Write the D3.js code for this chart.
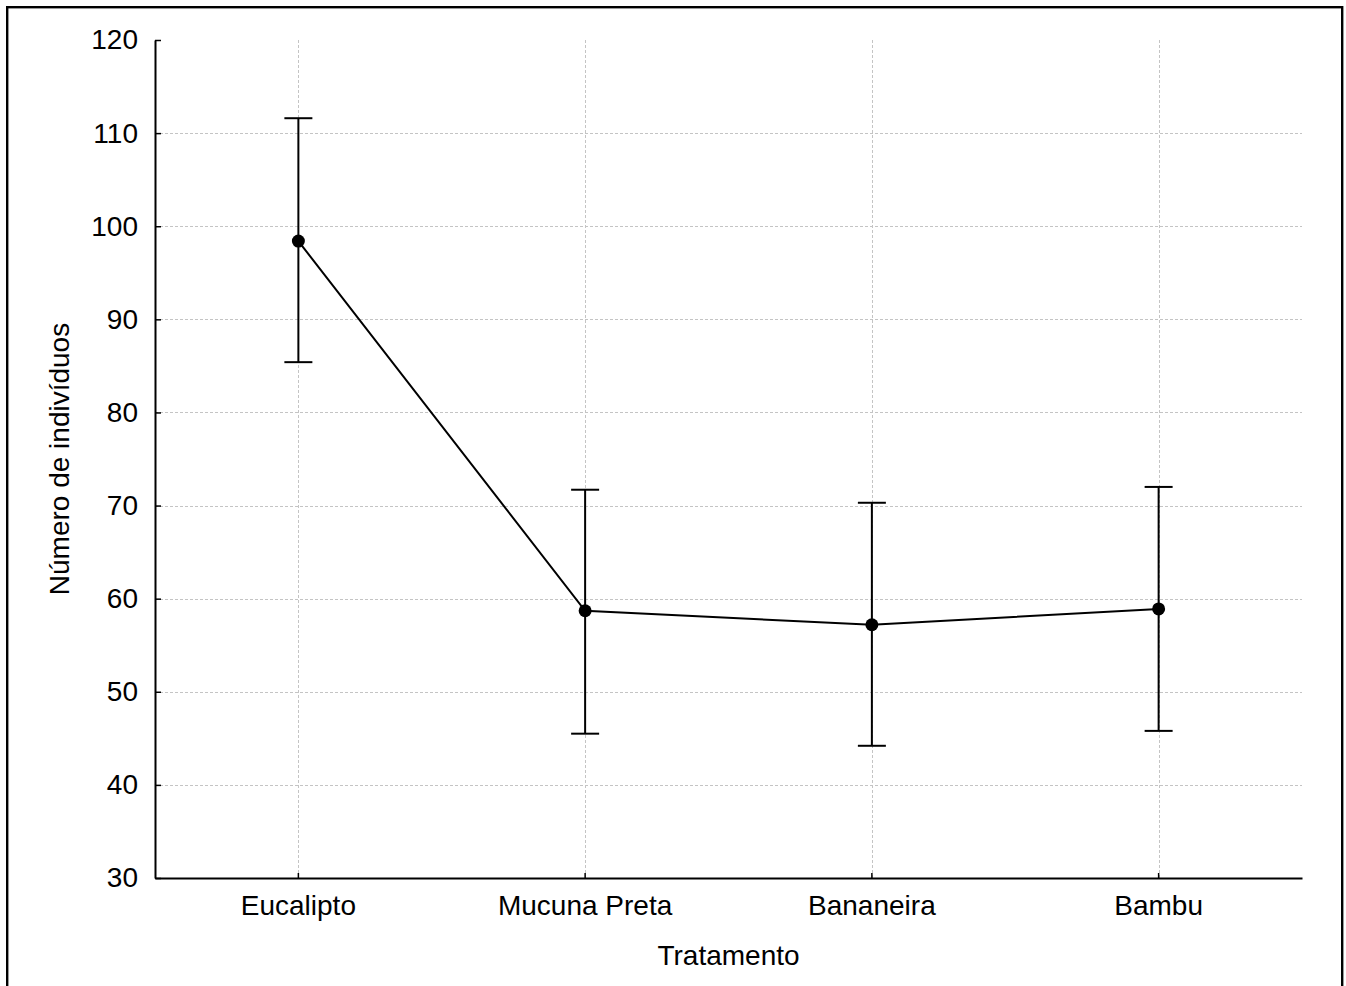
<!DOCTYPE html>
<html>
<head>
<meta charset="utf-8">
<script src="https://cdn.jsdelivr.net/npm/d3@7"></script>
<style>
  body { margin: 0; background: #fff; }
  svg { display: block; font-family: "Liberation Sans", Arial, sans-serif; }
</style>
</head>
<body>
<div class="chart"></div>
<script>
// data
const categories = ['Eucalipto', 'Mucuna Preta', 'Bananeira', 'Bambu'];
const means = [98.4, 58.7, 57.2, 58.9];
const upper = [111.6, 71.7, 70.3, 72.0];
const lower = [85.4, 45.5, 44.2, 45.8];
const yTicks = [30, 40, 50, 60, 70, 80, 90, 100, 110, 120];

const W = 1346, H = 986;
const margin = {top: 40, left: 155, right: 44, bottom: 108};
const width = W - margin.left - margin.right;
const height = H - margin.top - margin.bottom;
const fontSize = 28;

const data = categories.map((c, i) => ({cat: c, mean: means[i], hi: upper[i], lo: lower[i]}));

const root = d3.select('.chart')
    .append('svg')
    .attr('width', W)
    .attr('height', H);

// outer frame (bottom edge runs off the picture)
root.append('rect')
    .attr('x', 7.2)
    .attr('y', 7.2)
    .attr('width', 1335)
    .attr('height', 1000)
    .attr('fill', 'none')
    .attr('stroke', 'black')
    .attr('stroke-width', 2.4);

const svg = root.append('g')
    .attr('transform', `translate(${margin.left},${margin.top})`);

// scales
const xScale = d3.scaleBand()
    .domain(categories)
    .range([0, width])
    .padding(0);

const yScale = d3.scaleLinear()
    .domain([30, 120])
    .range([height, 0]);

const cx = d => xScale(d) + xScale.bandwidth() / 2;

// grid
const grid = svg.append('g')
    .attr('stroke', '#c4c4c4')
    .attr('stroke-width', 1)
    .attr('stroke-dasharray', '3,2');

grid.selectAll('.hgrid')
    .data(yTicks.filter(t => t > 30 && t < 120))
    .join('line')
    .attr('class', 'hgrid')
    .attr('x1', 0)
    .attr('x2', width)
    .attr('y1', d => Math.round(yScale(d)) + 0.5)
    .attr('y2', d => Math.round(yScale(d)) + 0.5);

grid.selectAll('.vgrid')
    .data(categories)
    .join('line')
    .attr('class', 'vgrid')
    .attr('x1', d => Math.round(cx(d)) + 0.5)
    .attr('x2', d => Math.round(cx(d)) + 0.5)
    .attr('y1', 0)
    .attr('y2', height);

// axes
const yAxis = d3.axisLeft(yScale)
    .tickValues(yTicks)
    .tickSizeInner(-6)
    .tickSizeOuter(0)
    .tickPadding(17);

svg.append('g')
    .attr('class', 'axis y-axis')
    .call(yAxis)
    .call(g => g.select('.domain').attr('stroke-width', 2))
    .call(g => g.selectAll('.tick line').attr('stroke-width', 1.5))
    .call(g => g.selectAll('.tick text')
        .attr('font-size', fontSize)
        .attr('fill', 'black')
        .attr('font-family', '"Liberation Sans", Arial, sans-serif'));

const xAxis = d3.axisBottom(xScale)
    .tickSizeInner(-5)
    .tickSizeOuter(0)
    .tickPadding(17);

svg.append('g')
    .attr('class', 'axis x-axis')
    .attr('transform', `translate(0,${height})`)
    .call(xAxis)
    .call(g => g.select('.domain').attr('stroke-width', 2))
    .call(g => g.selectAll('.tick line').attr('stroke-width', 1.5))
    .call(g => g.selectAll('.tick text')
        .attr('font-size', fontSize)
        .attr('fill', 'black')
        .attr('font-family', '"Liberation Sans", Arial, sans-serif'));

// axis titles
svg.append('text')
    .attr('x', width / 2)
    .attr('y', height + 87)
    .attr('text-anchor', 'middle')
    .attr('font-size', fontSize)
    .text('Tratamento');

svg.append('text')
    .attr('transform', `translate(${69 - margin.left},${height / 2}) rotate(-90)`)
    .attr('text-anchor', 'middle')
    .attr('font-size', fontSize)
    .text('Número de indivíduos');

// error bars
const bars = svg.append('g')
    .attr('stroke', 'black')
    .attr('stroke-width', 2);

bars.selectAll('.err')
    .data(data)
    .join('line')
    .attr('class', 'err')
    .attr('x1', d => cx(d.cat))
    .attr('x2', d => cx(d.cat))
    .attr('y1', d => yScale(d.hi))
    .attr('y2', d => yScale(d.lo));

bars.selectAll('.cap-hi')
    .data(data)
    .join('line')
    .attr('class', 'cap-hi')
    .attr('x1', d => cx(d.cat) - 14)
    .attr('x2', d => cx(d.cat) + 14)
    .attr('y1', d => yScale(d.hi))
    .attr('y2', d => yScale(d.hi));

bars.selectAll('.cap-lo')
    .data(data)
    .join('line')
    .attr('class', 'cap-lo')
    .attr('x1', d => cx(d.cat) - 14)
    .attr('x2', d => cx(d.cat) + 14)
    .attr('y1', d => yScale(d.lo))
    .attr('y2', d => yScale(d.lo));

// mean line
const line = d3.line()
    .x(d => cx(d.cat))
    .y(d => yScale(d.mean));

svg.append('path')
    .datum(data)
    .attr('fill', 'none')
    .attr('stroke', 'black')
    .attr('stroke-width', 2)
    .attr('d', line);

svg.selectAll('circle')
    .data(data)
    .join('circle')
    .attr('cx', d => cx(d.cat))
    .attr('cy', d => yScale(d.mean))
    .attr('r', 6.5)
    .attr('fill', 'black');
</script>
</body>
</html>
